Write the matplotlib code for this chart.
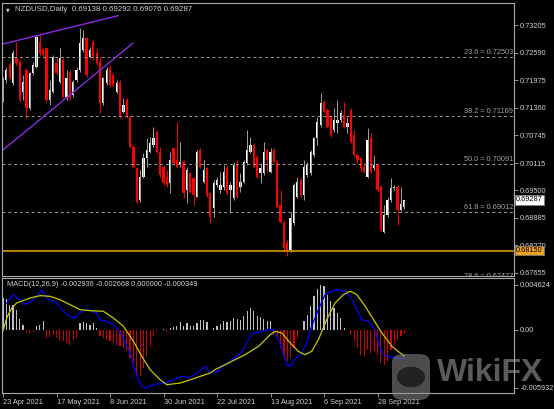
import numpy as np
import matplotlib.pyplot as plt
import matplotlib.transforms as mtransforms
from matplotlib.patches import FancyBboxPatch, Circle

plt.rcParams['font.family'] = ['Liberation Sans', 'DejaVu Sans']

# NZDUSD daily candles, 23 Apr 2021 .. 8 Oct 2021
opens = [0.71644, 0.71981, 0.72317, 0.71906, 0.72467, 0.72392, 0.71719, 0.72205, 0.71345, 0.72130,
         0.72280, 0.72841, 0.72654, 0.72691, 0.71532, 0.71719, 0.72355, 0.71943, 0.72429, 0.71607,
         0.72168, 0.71644, 0.71981, 0.72205, 0.72654, 0.72916, 0.72504, 0.72841, 0.72579, 0.72392,
         0.71457, 0.71906, 0.72242, 0.72093, 0.71719, 0.71943, 0.71270, 0.71532, 0.71158, 0.70484,
         0.69997, 0.69287, 0.69810, 0.70222, 0.70371, 0.70521, 0.70820, 0.70371, 0.70035, 0.69810,
         0.69661, 0.70446, 0.70184, 0.70072, 0.70147, 0.69511, 0.69885, 0.69773, 0.69362, 0.70409,
         0.69698, 0.69997, 0.69436, 0.69100, 0.69623, 0.69511, 0.69586, 0.69998, 0.69512, 0.69325,
         0.70073, 0.69586, 0.69698, 0.70110, 0.70372, 0.70521, 0.70260, 0.69886, 0.69886, 0.70409,
         0.69923, 0.70409, 0.70147, 0.69175, 0.68801, 0.68315, 0.68165, 0.68764, 0.69362, 0.69735,
         0.69399, 0.69848, 0.69886, 0.70297, 0.70671, 0.70970, 0.71494, 0.71307, 0.71157, 0.70858,
         0.71007, 0.71082, 0.71195, 0.70933, 0.71307, 0.70746, 0.70297, 0.70222, 0.70035, 0.69811,
         0.70671, 0.69998, 0.70073, 0.69586, 0.68577, 0.68951, 0.69287, 0.69549, 0.69586, 0.69063,
         0.69138]
highs = [0.72055, 0.72280, 0.72392, 0.72654, 0.72841, 0.72429, 0.72093, 0.72242, 0.72168, 0.72392,
         0.72990, 0.73028, 0.72691, 0.72729, 0.71981, 0.72542, 0.72504, 0.72691, 0.72467, 0.72205,
         0.72205, 0.71981, 0.72280, 0.73140, 0.73103, 0.72953, 0.72729, 0.72878, 0.72691, 0.72504,
         0.72055, 0.72280, 0.72317, 0.72130, 0.71981, 0.71981, 0.71569, 0.71569, 0.71195, 0.70521,
         0.70035, 0.69960, 0.70334, 0.70671, 0.70708, 0.70932, 0.70858, 0.70484, 0.70072, 0.69960,
         0.70371, 0.70484, 0.71045, 0.70596, 0.70184, 0.70035, 0.69923, 0.69810, 0.70409, 0.70446,
         0.70184, 0.70035, 0.69474, 0.69736, 0.69810, 0.69923, 0.70073, 0.70073, 0.69698, 0.70147,
         0.70185, 0.69886, 0.70185, 0.70858, 0.70708, 0.70559, 0.70297, 0.70110, 0.70596, 0.70447,
         0.70447, 0.70447, 0.70185, 0.69512, 0.68838, 0.68390, 0.69026, 0.69661, 0.69811, 0.69773,
         0.70185, 0.70147, 0.70409, 0.70708, 0.71157, 0.71681, 0.71531, 0.71344, 0.71195, 0.71344,
         0.71531, 0.71307, 0.71494, 0.71157, 0.71344, 0.70858, 0.70334, 0.70260, 0.70110, 0.70895,
         0.70783, 0.70297, 0.70110, 0.69624, 0.69175, 0.69362, 0.69773, 0.69624, 0.69624, 0.69586,
         0.69292]
lows = [0.71494, 0.71906, 0.71981, 0.71868, 0.72317, 0.71494, 0.71532, 0.71120, 0.71307, 0.72093,
        0.72242, 0.72542, 0.72504, 0.71494, 0.71420, 0.71681, 0.72093, 0.71906, 0.71569, 0.71532,
        0.71532, 0.71607, 0.71943, 0.72168, 0.72616, 0.72055, 0.72467, 0.72429, 0.72317, 0.71233,
        0.71420, 0.71868, 0.71831, 0.71831, 0.71681, 0.71120, 0.71233, 0.71120, 0.70447, 0.69997,
        0.69212, 0.69249, 0.69773, 0.70035, 0.70334, 0.70484, 0.70334, 0.69810, 0.69623, 0.69586,
        0.69436, 0.70072, 0.69997, 0.70035, 0.69324, 0.69212, 0.69436, 0.69175, 0.69347, 0.69997,
        0.69661, 0.69362, 0.68763, 0.68913, 0.69586, 0.69436, 0.69512, 0.69399, 0.68988, 0.69287,
        0.69325, 0.69474, 0.69661, 0.70073, 0.70334, 0.69998, 0.69773, 0.69661, 0.69848, 0.69923,
        0.69886, 0.70110, 0.69100, 0.68764, 0.68128, 0.68031, 0.68128, 0.68726, 0.69325, 0.69362,
        0.69287, 0.69811, 0.69848, 0.70260, 0.70521, 0.70933, 0.71232, 0.70895, 0.70708, 0.70821,
        0.70783, 0.71045, 0.70895, 0.70783, 0.70559, 0.70260, 0.70110, 0.69923, 0.69886, 0.69773,
        0.69886, 0.69960, 0.69474, 0.68577, 0.68554, 0.68913, 0.69250, 0.69512, 0.68726, 0.69026,
        0.69076]
closes = [0.71981, 0.72205, 0.72018, 0.72579, 0.72355, 0.71532, 0.71943, 0.71345, 0.72130, 0.72317,
          0.72953, 0.72579, 0.72542, 0.71532, 0.71756, 0.72504, 0.72130, 0.72467, 0.71607, 0.72018,
          0.71569, 0.71943, 0.72205, 0.72803, 0.72916, 0.72093, 0.72654, 0.72467, 0.72355, 0.71457,
          0.72018, 0.72205, 0.71868, 0.71868, 0.71906, 0.71158, 0.71420, 0.71158, 0.70485, 0.70035,
          0.69249, 0.69810, 0.70222, 0.70409, 0.70558, 0.70671, 0.70371, 0.69848, 0.69661, 0.69623,
          0.70184, 0.70110, 0.70035, 0.70147, 0.69436, 0.69960, 0.69474, 0.69399, 0.70371, 0.70035,
          0.69960, 0.69399, 0.68913, 0.69661, 0.69736, 0.69623, 0.69923, 0.69437, 0.69624, 0.70073,
          0.69362, 0.69698, 0.70147, 0.70409, 0.70521, 0.70035, 0.69811, 0.69998, 0.70372, 0.70185,
          0.70372, 0.70147, 0.69138, 0.68801, 0.68203, 0.68128, 0.68876, 0.69624, 0.69698, 0.69399,
          0.70035, 0.70073, 0.70372, 0.70671, 0.71045, 0.71456, 0.71269, 0.70933, 0.70746, 0.71082,
          0.71082, 0.71232, 0.70933, 0.71007, 0.70596, 0.70297, 0.70185, 0.69998, 0.69923, 0.70634,
          0.69923, 0.70073, 0.69512, 0.68614, 0.68951, 0.69287, 0.69549, 0.69586, 0.69063, 0.69197,
          0.69287]

# MACD(12,26,9) histogram, one value per bar
macd_hist = [0.00328, 0.00318, 0.00260, 0.00260, 0.00209, 0.00113, 0.00055, -0.00024, -0.00031, -0.00017,
             0.00038, 0.00055, 0.00089, -0.00082, -0.00075, -0.00051, -0.00082, -0.00099, -0.00116, -0.00133,
             -0.00157, -0.00099, -0.00082, 0.00072, 0.00079, 0.00072, 0.00055, 0.00072, 0.00021, -0.00065,
             -0.00082, -0.00099, -0.00116, -0.00133, -0.00150, -0.00168, -0.00185, -0.00219, -0.00287, -0.00356,
             -0.00475, -0.00469, -0.00390, -0.00270, -0.00168, -0.00058, -0.00007, 0.00003, 0.00014, -0.00017,
             0.00017, 0.00031, 0.00044, 0.00079, 0.00044, 0.00072, 0.00038, 0.00044, 0.00072, 0.00099,
             0.00106, 0.00079, 0.00002, 0.00021, 0.00038, 0.00065, 0.00089, 0.00082, 0.00089, 0.00123,
             0.00113, 0.00106, 0.00147, 0.00192, 0.00226, 0.00192, 0.00147, 0.00133, 0.00113, 0.00089,
             0.00089, -0.00048, -0.00099, -0.00185, -0.00270, -0.00321, -0.00287, -0.00185, -0.00082, -0.00014,
             0.00089, 0.00157, 0.00243, 0.00345, 0.00421, 0.00462, 0.00448, 0.00363, 0.00294, 0.00226,
             0.00174, 0.00123, 0.00021, 0.00003, -0.00048, -0.00116, -0.00185, -0.00253, -0.00270, -0.00202,
             -0.00236, -0.00219, -0.00253, -0.00339, -0.00356, -0.00321, -0.00202, -0.00150, -0.00099, -0.00065,
             -0.000349]

# blue and yellow MACD lines, sampled at bar positions
blue_x = [1.1, 3.1, 6.6, 9.1, 11.6, 13.6, 16.1, 18, 20, 21.5, 23.5, 25.5, 28, 29, 31, 33, 34.5, 36, 38,
          40, 41.5, 43, 45, 48, 51, 53.4, 55.4, 58, 60.4, 61.9, 64.4, 66.4, 68.4, 70.4, 71.5, 73, 74.5,
          77.4, 79.4, 80.8, 82.8, 84.9, 85.8, 87.3, 89.3, 90.8, 92.3, 94.3, 96.3, 98.3, 100.3, 102.3,
          103.8, 105.8, 107.3, 109.3, 111.3, 112.3, 113.3, 114.8, 117.3, 120]
blue_y = [0.00277, 0.00363, 0.00260, 0.00311, 0.00407, 0.00311, 0.00277, 0.00192, 0.00140, 0.00123,
          0.00192, 0.00209, 0.00174, 0.00106, 0.00089, 0.00055, 0.00003, -0.00082, -0.00236,
          -0.00475, -0.00578, -0.00595, -0.00561, -0.00544, -0.00510, -0.00475, -0.00492, -0.00441,
          -0.00373, -0.00441, -0.00424, -0.00356, -0.00304, -0.00253, -0.00219, -0.00120, -0.00040,
          -0.00014, 0.00010, 0.00003, -0.00133, -0.00356, -0.00373, -0.00304, -0.00236, -0.00133,
          0.00038, 0.00209, 0.00363, 0.00397, 0.00414, 0.00397, 0.00345, 0.00209, 0.00106, 0.00089,
          0.00003, -0.00133, -0.00236, -0.00270, -0.00287, -0.002936]
yel_x = [0, 1.1, 2.6, 4.1, 8.1, 11.1, 14.1, 17, 20, 23, 26, 30, 33, 36, 39, 41.5, 44, 47, 49, 53, 56,
         59, 62, 63.4, 66.4, 69.4, 72.4, 76.4, 79.9, 81.4, 83.4, 85.9, 88.3, 90.3, 92.3, 94.3, 96.8,
         99.3, 101.8, 103.8, 105.8, 108.3, 110.8, 113.3, 116.3, 119.3, 120]
yel_y = [-0.00010, 0.00123, 0.00226, 0.00277, 0.00328, 0.00352, 0.00345, 0.00311, 0.00260, 0.00209,
         0.00198, 0.00192, 0.00123, 0.00038, -0.00116, -0.00270, -0.00407, -0.00510, -0.00561,
         -0.00544, -0.00510, -0.00475, -0.00441, -0.00407, -0.00356, -0.00304, -0.00253, -0.00168,
         -0.00048, -0.00014, -0.00031, -0.00133, -0.00219, -0.00253, -0.00219, -0.00099, 0.00106,
         0.00277, 0.00363, 0.00397, 0.00363, 0.00243, 0.00106, -0.00031, -0.00168, -0.00250, -0.002668]

date_pos = [0, 16, 32, 48, 64, 80, 96, 112]
date_lbl = ['23 Apr 2021', '17 May 2021', '8 Jun 2021', '30 Jun 2021',
            '22 Jul 2021', '13 Aug 2021', '6 Sep 2021', '28 Sep 2021']

price_ticks = [0.73205, 0.72590, 0.71975, 0.71360, 0.70745, 0.70115,
               0.69500, 0.68885, 0.68270, 0.67655]
fib_names = ['23.6', '38.2', '50.0', '61.8', '78.6']
fib_vals = [0.72503, 0.71169, 0.70091, 0.69012, 0.67477]
support = 0.68150
last_price = 0.69287

# channel trendlines (bar index, price)
up_x = [-0.4, 34.4]
up_y = [0.72781, 0.73423]
lo_x = [-0.4, 38.8]
lo_y = [0.70386, 0.72804]

macd_ticks = [0.004624, 0.0, -0.005932]
macd_tlbl = ['0.004624', '0.00', '-0.005932']

W, H = 554, 409
fs = 5.3
txtc = '#d0d0d0'
framec = '#a8a8a8'

fig = plt.figure(figsize=(W / 100, H / 100), dpi=100, facecolor='black')
ax = fig.add_axes([2 / W, 1 - 276 / H, 512 / W, 273 / H], facecolor='black')
axm = fig.add_axes([2 / W, 1 - 393 / H, 512 / W, 115 / H], facecolor='black')

xl = (-0.3, 152.8)

# candles
o = np.array(opens); h = np.array(highs); l = np.array(lows); c = np.array(closes)
idx = np.arange(len(o))
up = c >= o
ax.vlines(idx[up], l[up], h[up], color='#a0a0a0', lw=0.7)
ax.vlines(idx[~up], l[~up], h[~up], color='#ff0000', lw=0.7)
body = np.maximum(np.abs(c - o), 0.00004)
ax.bar(idx[up], body[up], bottom=o[up], width=0.68, color='white', linewidth=0)
ax.bar(idx[~up], body[~up], bottom=c[~up], width=0.68, color='#ff0000', linewidth=0)

# fibo levels
blend = mtransforms.blended_transform_factory(ax.transAxes, ax.transData)
for name, v in zip(fib_names, fib_vals):
    ax.axhline(v, color='#9a9a9a', lw=0.7, ls=(0, (3, 3)))
    ax.text(0.998, v + 0.0002, f'{name} = {v:.5f}', transform=blend, ha='right', va='bottom',
            color='#a0a0a0', fontsize=fs, clip_on=True)

ax.axhline(support, color='#c88a00', lw=1.3)
ax.plot(up_x, up_y, color='#8a2be2', lw=1.0)
ax.plot(lo_x, lo_y, color='#8a2be2', lw=1.0)

ax.set_xlim(*xl)
ax.set_ylim(0.67580, 0.73708)
ax.yaxis.tick_right()
ax.set_yticks(price_ticks)
ax.set_yticklabels([f'{t:.5f}' for t in price_ticks])
ax.set_xticks([])
ax.tick_params(axis='y', colors=framec, labelcolor=txtc, labelsize=fs, length=3, width=0.6, pad=1.5)

for lab, val, bg in [('0.69287', last_price, 'white'), ('0.68150', support, '#f0a020')]:
    ax.text(1.004, val, lab, transform=blend, ha='left', va='center', color='black', fontsize=fs,
            clip_on=False, bbox=dict(facecolor=bg, edgecolor='#808080', pad=0.9, linewidth=0.5))

# MACD window
hcol = ['#c0c0c0' if v >= 0 else '#d00000' for v in macd_hist]
axm.bar(idx, macd_hist, width=0.35, color=hcol, linewidth=0)
axm.plot(blue_x, blue_y, color='#0000ff', lw=0.9)
axm.plot(yel_x, yel_y, color='#c8c800', lw=0.9)
axm.set_xlim(*xl)
axm.set_ylim(-0.00646, 0.00533)
axm.yaxis.tick_right()
axm.set_yticks(macd_ticks)
axm.set_yticklabels(macd_tlbl)
axm.set_xticks(date_pos)
axm.set_xticklabels(date_lbl)
for t in axm.get_xticklabels():
    t.set_ha('left')
axm.tick_params(colors=framec, labelcolor=txtc, labelsize=fs, length=3, width=0.6, pad=1.5)

for a in (ax, axm):
    for s in a.spines.values():
        s.set_color(framec)
        s.set_linewidth(0.8)

fig.text(6 / W, 1 - 9.5 / H, '\u25bc', color=txtc, fontsize=3.5, va='center', family='DejaVu Sans')
fig.text(15 / W, 1 - 9.5 / H, 'NZDUSD,Daily  0.69138 0.69292 0.69076 0.69287', color=txtc,
         fontsize=5.7, va='center')
fig.text(7 / W, 1 - 284 / H, 'MACD(12,26,9) -0.002936 -0.002668 0.000000 -0.000349', color=txtc,
         fontsize=fs, va='center')

# watermark
icon = FancyBboxPatch((392 / W, 1 - 400 / H), 38 / W, 46 / H,
                      boxstyle='round,pad=0,rounding_size=0.02', transform=fig.transFigure,
                      facecolor=(0.55, 0.55, 0.55, 0.55), edgecolor='none')
fig.patches.append(icon)
fig.patches.append(Circle((411 / W, 1 - 377 / H), 14 / W, transform=fig.transFigure,
                          facecolor=(0, 0, 0, 0.55), edgecolor='none'))
fig.text(437 / W, 1 - 373 / H, 'WikiFX', color=(0.6, 0.6, 0.6, 0.6), fontsize=23,
         fontweight='bold', va='center', ha='left')

fig.savefig('out.png', dpi=100, facecolor='black')
